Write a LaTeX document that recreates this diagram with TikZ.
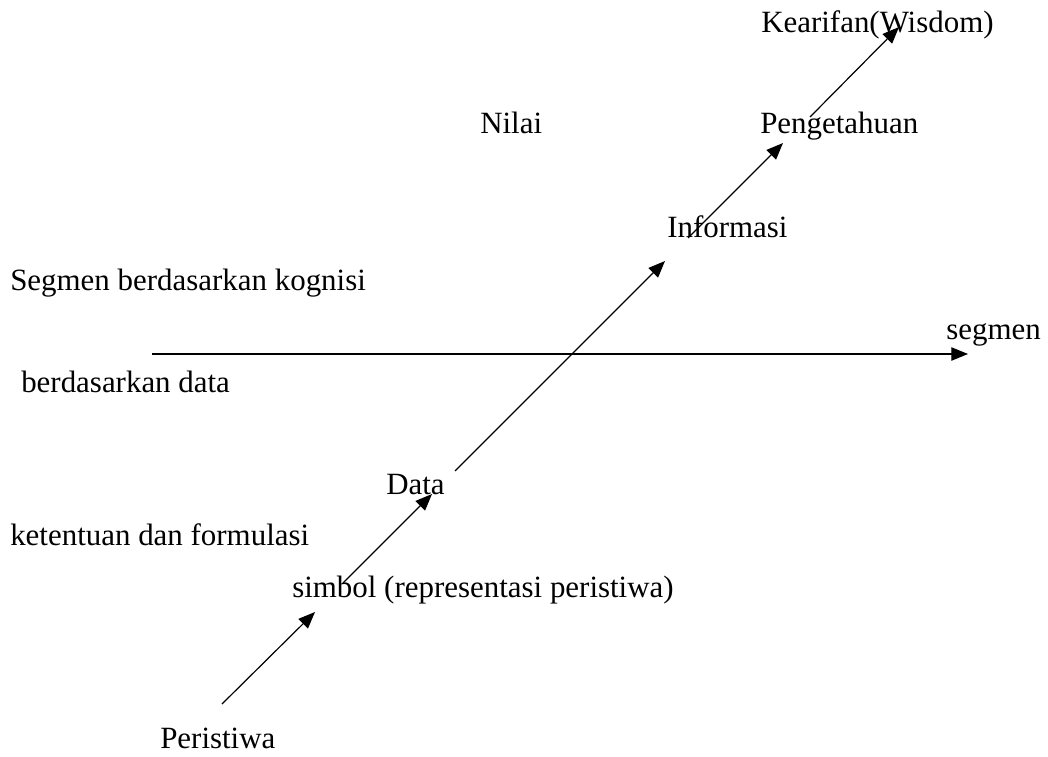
\documentclass[tikz,border=0pt]{standalone}
\usepackage{fontspec}
\setmainfont{Liberation Serif}
\usetikzlibrary{arrows.meta}
\tikzstyle{wordnode}=[anchor=base west,inner sep=0pt,font=\fontsize{23.2}{27}\selectfont]
\tikzstyle{steparrow}=[-{Triangle[length=12.5pt,width=10pt]},line width=0.9pt]
\begin{document}
\begin{tikzpicture}[x=0.75pt,y=-0.75pt]
	\useasboundingbox (0,0) rectangle (1048,756);
	% words, left edge and baseline
	\node[wordnode] (kearifan) at (761,33) {Kearifan(Wisdom)};
	\node[wordnode] (nilai) at (480,134) {Nilai};
	\node[wordnode] (pengetahuan) at (760,134) {Pengetahuan};
	\node[wordnode] (informasi) at (667,237) {Informasi};
	\node[wordnode] (kognisi) at (10,290) {Segmen berdasarkan kognisi};
	\node[wordnode] (segmen) at (946,339) {segmen};
	\node[wordnode] (berdata) at (21,392) {berdasarkan data};
	\node[wordnode] (data) at (386,494) {Data};
	\node[wordnode] (ketentuan) at (10,545) {ketentuan dan formulasi};
	\node[wordnode] (simbol) at (292,597) {simbol (representasi peristiwa)};
	\node[wordnode] (peristiwa) at (160,748) {Peristiwa};
	% arrow ends
	\coordinate (p0) at (222,704);
	\coordinate (p1) at (315,612);
	\coordinate (s0) at (343,583);
	\coordinate (s1) at (432,494);
	\coordinate (d0) at (455,471);
	\coordinate (d1) at (665,261);
	\coordinate (i0) at (688,238);
	\coordinate (i1) at (783,143);
	\coordinate (k0) at (810,117);
	\coordinate (k1) at (899,27);
	\coordinate (h0) at (152,354);
	\coordinate (h1) at (968,354);
	\draw[steparrow] (p0) -- (p1);
	\draw[steparrow] (s0) -- (s1);
	\draw[steparrow] (d0) -- (d1);
	\draw[steparrow] (i0) -- (i1);
	\draw[steparrow] (k0) -- (k1);
	\draw[steparrow] (h0) -- (h1);
\end{tikzpicture}
\end{document}
